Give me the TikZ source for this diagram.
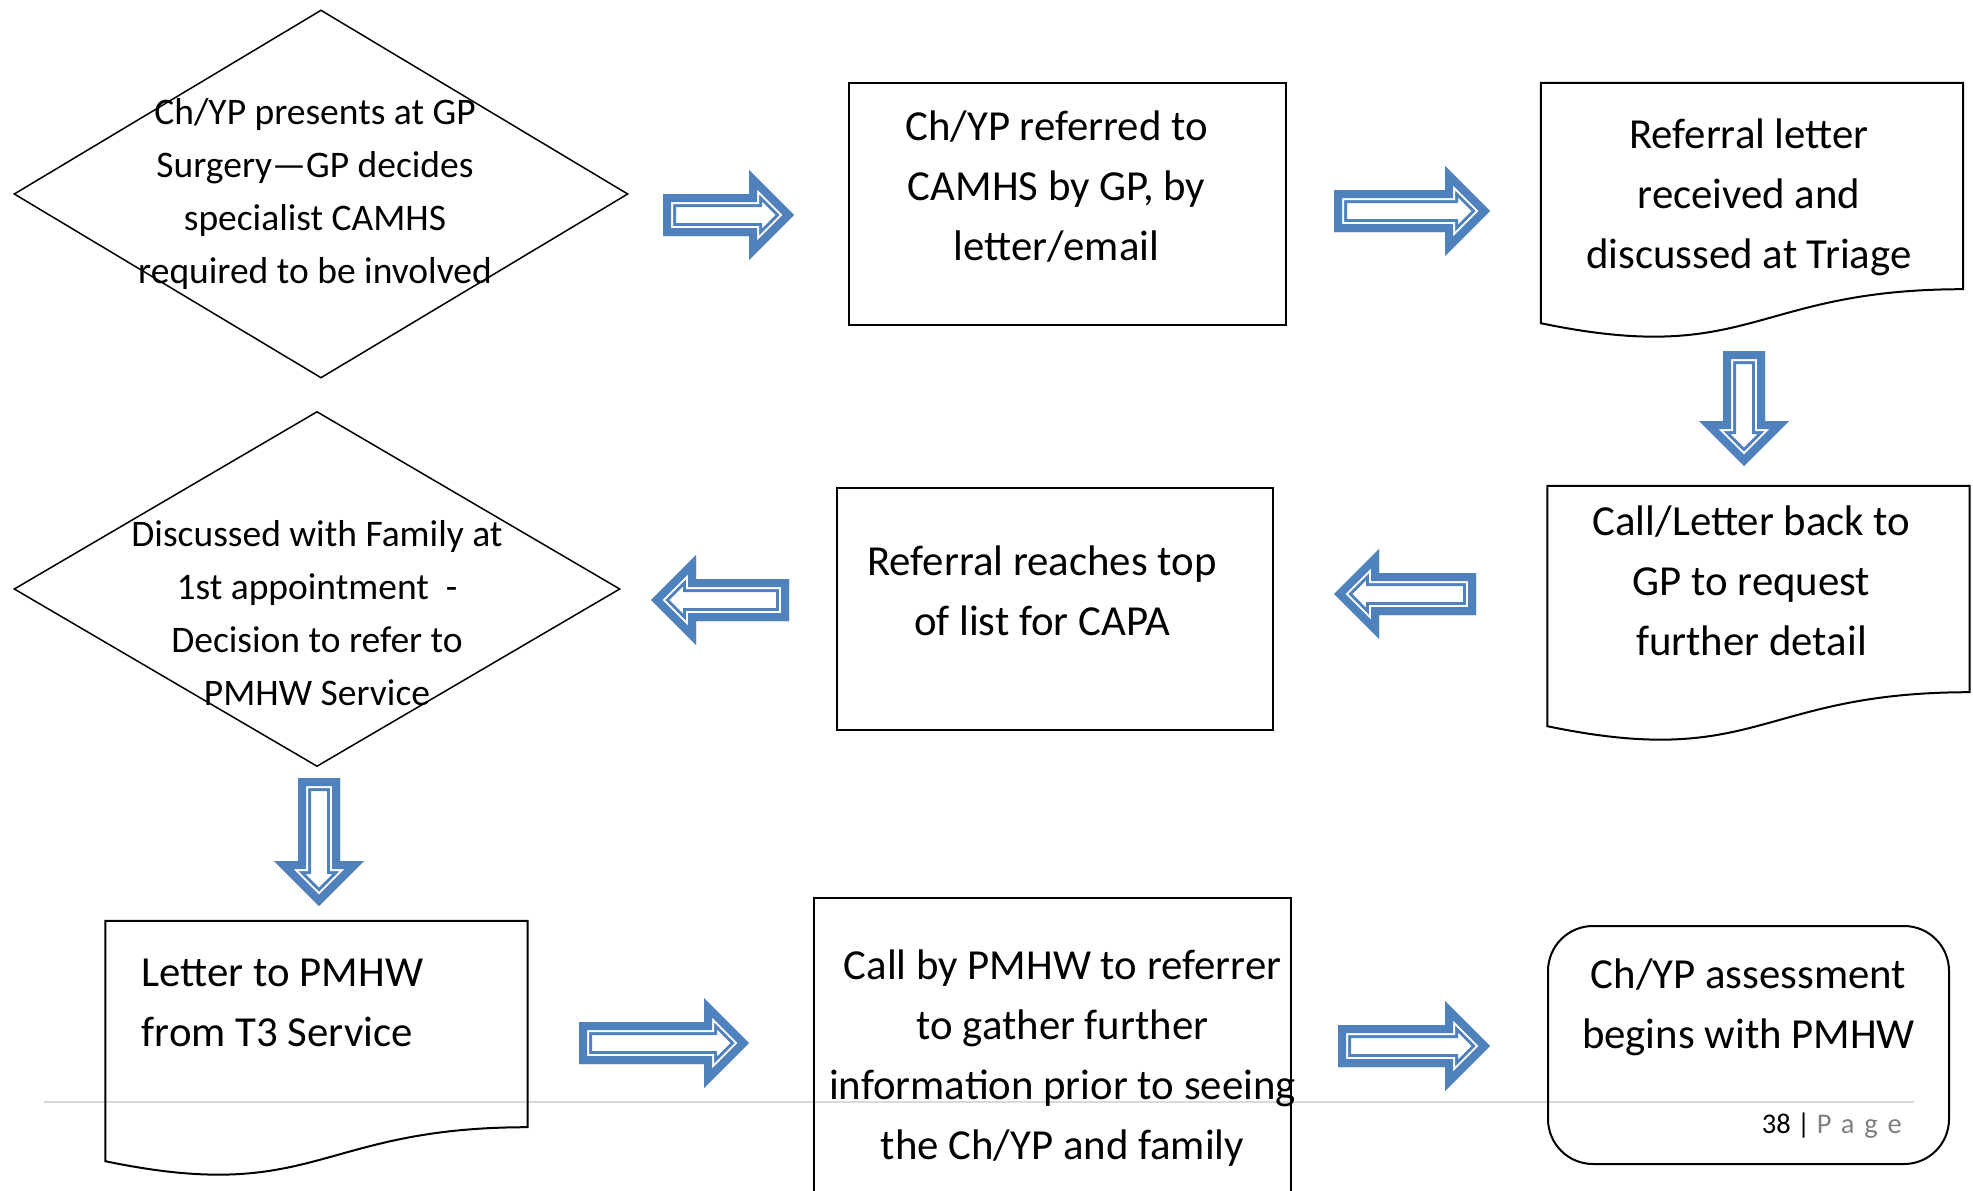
\documentclass[tikz,border=0pt]{standalone}
\usepackage{fontspec}
\setmainfont{Carlito}
\usetikzlibrary{shapes.geometric, calc}
\definecolor{flowblue}{HTML}{4F81BD}
\definecolor{rulegray}{HTML}{D9D9D9}
\definecolor{pagegray}{HTML}{7F7F7F}

% outline of a block arrow pointing along +x, tail centre at the origin
\tikzset{
  arrow outline/.style={insert path={(0,-21) -- (#1-45,-21) -- (#1-45,-45) -- (#1,0)
      -- (#1-45,45) -- (#1-45,21) -- (0,21) -- cycle}},
  pics/hollow arrow/.style={code={
      \fill[white, arrow outline=#1];
      \begin{scope}
        \clip[arrow outline=#1];
        \draw[flowblue, line width=26pt, line join=miter, arrow outline=#1];
        \draw[white, line width=20pt, line join=miter, arrow outline=#1];
        \draw[flowblue, line width=16pt, line join=miter, arrow outline=#1];
      \end{scope}
    }},
}

\begin{document}
\begin{tikzpicture}[
    x=1pt, y=-1pt,
    txt/.style={font=\fontsize{42.8}{60}\selectfont, align=center},
    dtxt/.style={font=\fontsize{37.5}{53}\selectfont, align=center},
    decision/.style={diamond, draw, line width=1.5pt, inner sep=0pt},
    box/.style={draw, line width=2pt, inner sep=0pt},
    docbox/.style={inner sep=0pt, minimum width=422pt, minimum height=206pt},
    docline/.style={line width=2pt, line join=miter},
  ]
  \useasboundingbox (0,0) rectangle (1973,1191);

  % footer rule
  \draw[rulegray, line width=1.5pt] (44,1102) -- (1914,1102);

  % top row
  \node[decision, minimum width=614pt, minimum height=368pt,
    label={[dtxt, xshift=-6pt]center:{Ch/YP presents at GP\\Surgery—GP decides\\specialist CAMHS\\required to be involved}}]
    (gp) at (321,194) {};
  \node[box, minimum width=437pt, minimum height=242pt,
    label={[txt, xshift=-11pt, yshift=17pt]center:{Ch/YP referred to\\CAMHS by GP, by\\letter/email}}]
    (refer) at (1067.5,204) {};
  \node[docbox, label={[txt, xshift=-3pt, yshift=-11pt]center:{Referral letter\\received and\\discussed at Triage}}]
    (triage) at (1752,186) {};

  % middle row
  \node[docbox, label={[txt, xshift=-7pt, yshift=8pt]center:{Call/Letter back to\\GP to request\\further detail}}]
    (callback) at (1758.5,589) {};
  \node[box, minimum width=436pt, minimum height=242pt,
    label={[txt, xshift=-13pt, yshift=18pt]center:{Referral reaches top\\of list for CAPA}}]
    (capa) at (1055,609) {};
  \node[decision, minimum width=606pt, minimum height=355pt,
    label={[dtxt, yshift=-24pt]center:{Discussed with Family at\\1st appointment~ -\\Decision to refer to\\PMHW Service}}]
    (family) at (317,589) {};

  % bottom row
  \node[docbox, label={[txt, align=left, xshift=-34pt, yshift=21pt]center:{Letter to PMHW\\from T3 Service}}]
    (letter) at (316.5,1024) {};
  \node[box, minimum width=477pt, minimum height=320pt,
    label={[txt, xshift=10pt]center:{Call by PMHW to referrer\\to gather further\\information prior to seeing\\the Ch/YP and family}}]
    (pmhw) at (1052.5,1058) {};
  \node[box, rounded corners=45pt, minimum width=401pt, minimum height=238pt,
    label={[txt, yshift=38pt]center:{Ch/YP assessment\\begins with PMHW}}]
    (assess) at (1748.5,1045) {};

  % document outlines with wavy bottom
  \foreach \d in {triage, callback, letter}
    \draw[docline] ($(\d.south west)+(0,34)$) -- (\d.north west) -- (\d.north east)
      -- (\d.south east) .. controls (\d.south) and ($(\d.south)+(0,78)$)
      .. ($(\d.south west)+(0,34)$) -- cycle;

  % block arrows
  \pic at (663,215) {hollow arrow=131};
  \pic at (1334,211) {hollow arrow=156};
  \pic[rotate=-90] at (1744,351) {hollow arrow=115};
  \pic[rotate=180] at (1476,594) {hollow arrow=142};
  \pic[rotate=180] at (789,600) {hollow arrow=138};
  \pic[rotate=-90] at (319,778) {hollow arrow=128};
  \pic at (579,1043) {hollow arrow=170};
  \pic at (1338,1046) {hollow arrow=152};

  % page number
  \node[anchor=base east, inner sep=0pt, font=\fontsize{28.5}{34}\selectfont]
    (pageno) at (1902,1133) {38 | \textcolor{pagegray}{\addfontfeature{LetterSpace=35}Page}};
\end{tikzpicture}
\end{document}
